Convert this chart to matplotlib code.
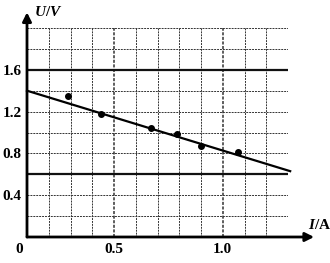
import matplotlib
matplotlib.use("Agg")
import matplotlib.pyplot as plt
import numpy as np

plt.rcParams['font.family'] = ['Liberation Serif', 'DejaVu Serif']
plt.rcParams['mathtext.fontset'] = 'custom'
plt.rcParams['mathtext.it'] = 'Liberation Serif:italic:bold'
plt.rcParams['mathtext.rm'] = 'Liberation Serif:bold'
plt.rcParams['mathtext.bf'] = 'Liberation Serif:bold'

# measured points
I_data = [0.29, 0.44, 0.67, 0.79, 0.90, 1.07]
U_data = [1.35, 1.18, 1.04, 0.99, 0.87, 0.81]
# fitted line endpoints
line_I = [0.10, 1.31]
line_U = [1.40, 0.63]
# tick labels
x_ticks = [0.5, 1.0]
x_tick_labels = ['0.5', '1.0']
y_ticks = [0.4, 0.8, 1.2, 1.6]
y_tick_labels = ['0.4', '0.8', '1.2', '1.6']

fig = plt.figure(figsize=(3.30, 2.63), dpi=100)
ax = fig.add_axes([27/330, 26/263, 261/330, 209/263])
xmin, xmax = 0.1, 1.3
ymin, ymax = 0.0, 2.0
ax.set_xlim(xmin, xmax)
ax.set_ylim(ymin, ymax)

# grid
gx = np.round(np.arange(0.2, 1.301, 0.1), 2)
gy = np.round(np.arange(0.2, 2.001, 0.2), 2)
for x in gx:
    lw = 1.1 if x in (0.5, 1.0) else 0.7
    ax.plot([x, x], [ymin, ymax], color='#333333', lw=lw, ls=(0, (2, 1)), zorder=1)
for y in gy:
    if y in (0.6, 1.6):
        ax.plot([xmin, xmax], [y, y], color='#111111', lw=1.6, zorder=1)
    else:
        ax.plot([xmin, xmax], [y, y], color='#333333', lw=0.7, ls=(0, (2, 1)), zorder=1)

for s in ax.spines.values():
    s.set_visible(False)

# axes with arrows
ax.annotate('', xy=(1.42, 0), xytext=(xmin, 0), xycoords='data',
            arrowprops=dict(arrowstyle='-|>', lw=2.0, color='k', mutation_scale=13,
                            shrinkA=0, shrinkB=0), annotation_clip=False)
ax.annotate('', xy=(xmin, 2.15), xytext=(xmin, 0), xycoords='data',
            arrowprops=dict(arrowstyle='-|>', lw=2.0, color='k', mutation_scale=13,
                            shrinkA=0, shrinkB=0), annotation_clip=False)

# fitted line and points
ax.plot(line_I, line_U, color='k', lw=1.6, zorder=3, clip_on=False)
ax.plot(I_data, U_data, 'o', color='k', ms=4, zorder=4, clip_on=False)

ax.set_xticks(x_ticks)
ax.set_xticklabels(x_tick_labels, fontweight='bold')
ax.set_yticks(y_ticks)
ax.set_yticklabels(y_tick_labels, fontweight='bold')
ax.tick_params(length=0, labelsize=11, pad=4)

ax.text(-0.015, -0.03, '0', transform=ax.transAxes, ha='right', va='top', fontsize=11,
        fontweight='bold')
ax.text(0.025, 1.075, r'$U/V$', transform=ax.transAxes, ha='left', va='center', fontsize=11)
ax.text(1.075, 0.025, r'$I\mathbf{/A}$', transform=ax.transAxes, ha='left', va='bottom',
        fontsize=11)

fig.savefig('out.png', dpi=100)
